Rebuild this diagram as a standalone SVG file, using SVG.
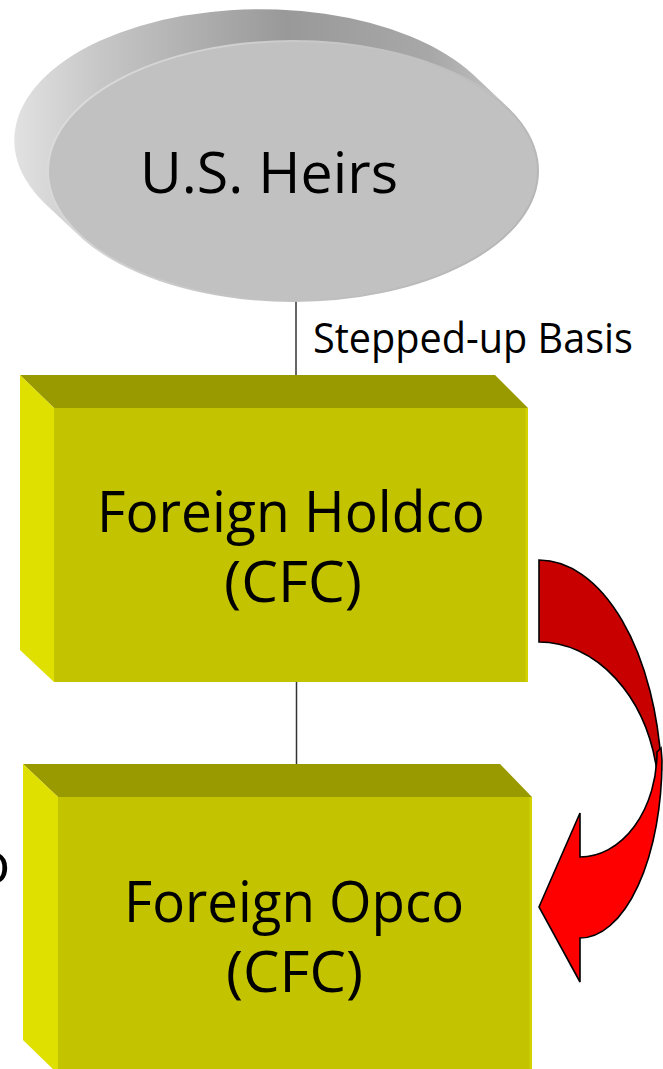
<svg xmlns="http://www.w3.org/2000/svg" width="663" height="1069" viewBox="0 0 663 1069">
  <style>
    .lbl { font-family: "Open Sans", "DejaVu Sans", sans-serif; fill: #000; }
    .big { font-size: 57px; }
    .small { font-size: 42px; }
    .conn { stroke: #333; stroke-width: 1.5; fill: none; }
    .top { fill: #999900; }
    .front { fill: #c3c300; }
    .left { fill: #e0e000; }
    .edge { fill: #d2d200; }
    .arrowStroke { stroke: #000; stroke-width: 1.6; stroke-linejoin: miter; }
  </style>
  <defs>
    <linearGradient id="discSide" gradientUnits="userSpaceOnUse" x1="13" y1="0" x2="507" y2="0">
      <stop offset="0" stop-color="#e2e2e2"/>
      <stop offset="0.18" stop-color="#c6c6c6"/>
      <stop offset="0.55" stop-color="#999999"/>
      <stop offset="0.85" stop-color="#a8a8a8"/>
      <stop offset="1" stop-color="#c2c2c2"/>
    </linearGradient>
    <linearGradient id="discRim" gradientUnits="userSpaceOnUse" x1="60" y1="60" x2="520" y2="300">
      <stop offset="0" stop-color="#dedede"/>
      <stop offset="0.5" stop-color="#c4c4c4"/>
      <stop offset="1" stop-color="#b4b4b4"/>
    </linearGradient>
  </defs>

  <g id="connectors">
    <line class="conn" x1="296" y1="300" x2="296" y2="376"/>
    <line class="conn" x1="296.5" y1="682" x2="296.5" y2="765"/>
  </g>

  <g id="us-heirs">
    <path d="M78.9,235.5 L44.9,203.5 A246,131 0 0 1 473.1,74.5 L507.1,106.5 A246,131 0 0 0 78.9,235.5 Z" fill="url(#discSide)"/>
    <ellipse cx="293" cy="171" rx="245" ry="130" fill="#c1c1c1" stroke="url(#discRim)" stroke-width="2"/>
    <text class="lbl big" x="140" y="193" textLength="258" lengthAdjust="spacingAndGlyphs">U.S. Heirs</text>
  </g>

  <g id="stepped-up-label">
    <text class="lbl small" x="313" y="353" textLength="320" lengthAdjust="spacingAndGlyphs">Stepped-up Basis</text>
  </g>

  <g id="foreign-holdco">
    <polygon class="top" points="20,375 495,375 528,408 54,408"/>
    <polygon class="left" points="20,375 54,408 54,682 20,650"/>
    <rect class="front" x="54" y="408" width="474" height="274"/>
    <rect class="edge" x="525.5" y="408" width="2.5" height="274"/>
    <text class="lbl big" x="97" y="532" textLength="388" lengthAdjust="spacingAndGlyphs">Foreign Holdco</text>
    <text class="lbl big" x="224" y="602" textLength="138" lengthAdjust="spacingAndGlyphs">(CFC)</text>
  </g>

  <g id="foreign-opco">
    <polygon class="top" points="23,764 500,764 532,797 58,797"/>
    <polygon class="left" points="23,764 58,797 58,1074 23,1040"/>
    <rect class="front" x="58" y="797" width="474" height="277"/>
    <rect class="edge" x="529.5" y="797" width="2.5" height="277"/>
    <text class="lbl big" x="124" y="922" textLength="340" lengthAdjust="spacingAndGlyphs">Foreign Opco</text>
    <text class="lbl big" x="226" y="992" textLength="137" lengthAdjust="spacingAndGlyphs">(CFC)</text>
  </g>

  <g id="edge-text">
    <text class="lbl big" x="-24" y="883">o</text>
  </g>

  <g id="curved-arrow">
    <path class="arrowStroke" fill="#c80000" d="M539,560 A123,230 0 0 1 661.5,770 L656.8,770 A120,158 0 0 0 539,642 Z"/>
    <path class="arrowStroke" fill="#ff0000" d="M657,752 A77,105 0 0 1 580,857 L580,813 L539,907 L580,982 L580,938 A82,178 0 0 0 662,760 L661,748 Z"/>
  </g>
</svg>
